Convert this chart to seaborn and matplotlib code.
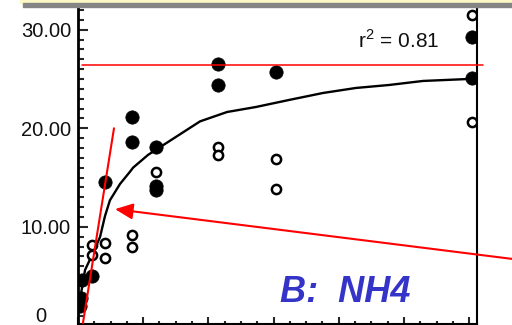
import matplotlib
matplotlib.use("Agg")
import matplotlib.pyplot as plt
from matplotlib.ticker import MultipleLocator, AutoMinorLocator, FixedLocator, NullFormatter, FixedFormatter
from matplotlib.transforms import blended_transform_factory
import matplotlib.patches as mpatches
import pandas as pd
import seaborn as sns

# Incubation day vs. NH4 concentration
days_filled = [0.15, 0.2, 0.3, 1.1, 2.1, 4.15, 4.15, 6.0, 6.0, 6.0,
               10.7, 10.7, 15.2, 30.2, 30.2]
nh4_filled = [2.0, 2.8, 4.6, 5.0, 14.55, 21.1, 18.6, 18.1, 14.1, 13.7,
              26.5, 24.4, 25.7, 29.3, 25.1]

days_open = [1.1, 1.1, 2.1, 2.1, 4.15, 4.15, 6.0, 10.7, 10.7,
             15.2, 15.2, 30.2, 30.2]
nh4_open = [8.16, 7.15, 8.36, 6.84, 9.18, 7.96, 15.57, 18.1, 17.3,
            16.9, 13.8, 31.5, 20.6]

# Fitted saturation curve
fit_days = [0.2, 0.54, 1.15, 1.69, 2.07, 2.45, 3.22, 3.99, 4.22, 5.37,
            7.13, 9.36, 11.43, 13.65, 16.18, 18.79, 21.32, 23.85, 26.46,
            29.98, 30.2]
fit_nh4 = [3.0, 5.63, 7.35, 8.97, 11.1, 12.7, 14.35, 15.6, 16.0, 17.3,
           18.8, 20.7, 21.65, 22.16, 22.87, 23.58, 24.09, 24.39, 24.8,
           25.0, 25.1]

plateau = 26.4
initial_slope_days = [0.38, 2.76]
initial_slope_nh4 = [0.25, 20.0]
r_squared = 0.81
panel_label = "B:  NH4"
ytick_values = [10, 20, 30]
ytick_labels = ["10.00", "20.00", "30.00"]

sns.set_style("white")
plt.rcParams["font.family"] = ["Liberation Sans", "DejaVu Sans"]
plt.rcParams["mathtext.fontset"] = "custom"
plt.rcParams["mathtext.rm"] = "Liberation Sans"

W, H = 512, 325
fig = plt.figure(figsize=(W / 100, H / 100), dpi=100)
fig.patch.set_facecolor("white")

# header strip along the top edge
fig.patches.append(mpatches.Rectangle((20 / W, (H - 2.5) / H), 1, 2.5 / H,
                                      transform=fig.transFigure,
                                      color="#fbf8c6", zorder=0))
fig.patches.append(mpatches.Rectangle((23 / W, (H - 7) / H), 1, 4.5 / H,
                                      transform=fig.transFigure,
                                      color="#858585", zorder=1))

ax = fig.add_axes([78 / W, 1 / H, 399 / W, 317 / H])
ax.set_facecolor("white")

df_f = pd.DataFrame({"day": days_filled, "nh4": nh4_filled})
df_o = pd.DataFrame({"day": days_open, "nh4": nh4_open})
df_fit = pd.DataFrame({"day": fit_days, "nh4": fit_nh4})

sns.lineplot(data=df_fit, x="day", y="nh4", ax=ax, color="black",
             lw=1.7, sort=False, zorder=2)
sns.scatterplot(data=df_o, x="day", y="nh4", ax=ax, s=44,
                facecolor="white", edgecolor="black", linewidth=1.8, zorder=3)
sns.scatterplot(data=df_f, x="day", y="nh4", ax=ax, s=92,
                color="black", edgecolor="black", linewidth=0.5, zorder=3)

# plateau and initial slope
ax.plot([0.3, 31.06], [plateau, plateau], color="red", lw=1.1,
        clip_on=False, zorder=4)
ax.plot(initial_slope_days, initial_slope_nh4, color="red", lw=1.5,
        clip_on=False, zorder=4)

ax.annotate("", xy=(2.84, 11.8), xytext=(33.6, 6.7),
            arrowprops=dict(arrowstyle="-|>,head_length=0.6,head_width=0.27",
                            mutation_scale=18, color="red", lw=1.5,
                            shrinkA=0, shrinkB=0),
            annotation_clip=False, zorder=5)

ax.text(21.45, 28.2, f"r$^2$ = {r_squared:.2f}", fontsize=15,
        color="#111111", ha="left", va="baseline")
ax.text(15.5, 2.35, panel_label, fontsize=26, fontweight="bold",
        fontstyle="italic", color="#3434c8", ha="left", va="baseline")

ax.set_xlim(0, 30.6)
ax.set_ylim(0.15, 32.3)
ax.set_xlabel("")
ax.set_ylabel("")

ax.xaxis.set_major_locator(MultipleLocator(5))
ax.xaxis.set_minor_locator(AutoMinorLocator(4))
ax.xaxis.set_major_formatter(NullFormatter())
ax.yaxis.set_major_locator(FixedLocator(ytick_values))
ax.yaxis.set_major_formatter(FixedFormatter(ytick_labels))
ax.yaxis.set_minor_locator(MultipleLocator(1))

ax.tick_params(axis="y", which="major", direction="in", length=7, width=1.5,
               pad=5, labelsize=14.5, left=True, labelcolor="#111111")
ax.tick_params(axis="y", which="minor", direction="in", length=4.5,
               width=1.5, left=True)
ax.tick_params(axis="x", which="major", direction="in", length=5, width=1.5,
               bottom=True)
ax.tick_params(axis="x", which="minor", direction="in", length=2.5,
               width=1.5, bottom=True)

for side in ["left", "right", "bottom"]:
    ax.spines[side].set_visible(True)
    ax.spines[side].set_color("black")
ax.spines["left"].set_linewidth(2.0)
ax.spines["right"].set_linewidth(1.5)
ax.spines["bottom"].set_linewidth(1.5)
ax.spines["top"].set_visible(False)

# baseline label
trans = blended_transform_factory(ax.transAxes, ax.transData)
ax.text(-32 / 399, 0.9, "0", transform=trans, fontsize=14.5,
        color="#111111", ha="right", va="center", clip_on=False)

fig.savefig("out.png", dpi=100)
